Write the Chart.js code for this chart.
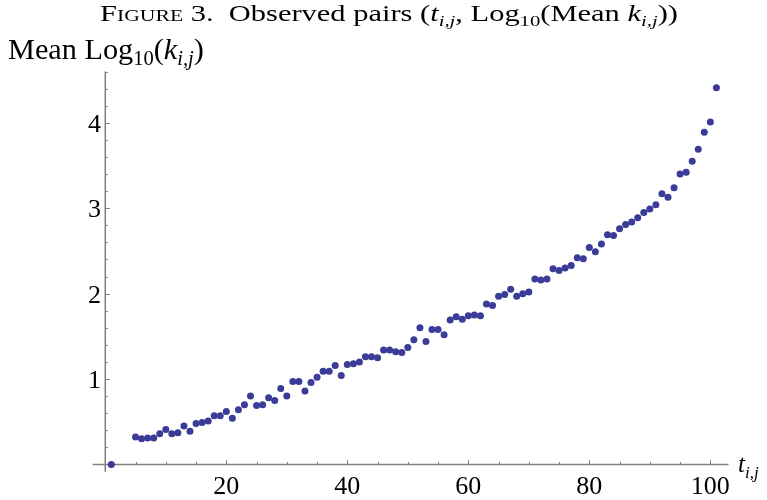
<!DOCTYPE html>
<html>
<head>
<meta charset="utf-8">
<script src="https://cdn.jsdelivr.net/npm/chart.js@4/dist/chart.umd.min.js"></script>
<style>
  html, body { margin: 0; padding: 0; background: #fff; }
  #wrap { position: relative; width: 767px; height: 500px; overflow: hidden; }
  #chart1 { position: absolute; left: 0; top: 0; }
  .txt { position: absolute; white-space: nowrap; line-height: 1; color: #000;
         font-family: "Liberation Serif", "Times New Roman", serif; transform-origin: 0 0; }
  .sub { font-size: 68%; position: relative; top: 0.32em; }
  .sc { font-variant: small-caps; }
</style>
</head>
<body>
<div id="wrap">
  <canvas id="chart1" width="767" height="500"></canvas>
  <div class="txt" id="title"><span class="sc">Figure 3.</span>&nbsp; Observed pairs (<i>t</i><span class="sub"><i>i,j</i></span>, Log<span class="sub">10</span>(Mean <i>k</i><span class="sub"><i>i,j</i></span>))</div>
  <div class="txt" id="ylabel">Mean Log<span class="sub">10</span>(<i>k</i><span class="sub"><i>i,j</i></span>)</div>
  <div class="txt" id="xlabel"><i>t</i><span class="sub"><i>i,j</i></span></div>
</div>
<script>
// observed pairs: t_{i,j} and mean log10(k_{i,j})
const tValues = [
  1, 5, 6, 7, 8, 9, 10, 11, 12, 13, 14, 15, 16, 17, 18, 19, 20,
  21, 22, 23, 24, 25, 26, 27, 28, 29, 30, 31, 32, 33, 34, 35, 36, 37, 38, 39, 40,
  41, 42, 43, 44, 45, 46, 47, 48, 49, 50, 51, 52, 53, 54, 55, 56, 57, 58, 59, 60,
  61, 62, 63, 64, 65, 66, 67, 68, 69, 70, 71, 72, 73, 74, 75, 76, 77, 78, 79, 80,
  81, 82, 83, 84, 85, 86, 87, 88, 89, 90, 91, 92, 93, 94, 95, 96, 97, 98, 99, 100, 101
];
const meanLogK = [
  0.00, 0.32, 0.30, 0.31, 0.31, 0.36, 0.41, 0.36, 0.37, 0.45, 0.39, 0.48, 0.49, 0.51, 0.57, 0.57, 0.62,
  0.54, 0.64, 0.70, 0.80, 0.69, 0.70, 0.78, 0.75, 0.89, 0.80, 0.97, 0.97, 0.86, 0.96, 1.02, 1.09, 1.09, 1.16, 1.04, 1.17,
  1.18, 1.20, 1.26, 1.26, 1.25, 1.34, 1.34, 1.32, 1.31, 1.37, 1.46, 1.60, 1.44, 1.58, 1.58, 1.52, 1.69, 1.73, 1.70, 1.74,
  1.75, 1.74, 1.88, 1.86, 1.97, 1.99, 2.05, 1.97, 2.00, 2.02, 2.17, 2.16, 2.17, 2.29, 2.27, 2.30, 2.33, 2.42, 2.41, 2.54,
  2.49, 2.58, 2.69, 2.68, 2.76, 2.81, 2.84, 2.89, 2.95, 2.99, 3.04, 3.17, 3.13, 3.24, 3.40, 3.42, 3.55, 3.69, 3.89, 4.01, 4.41
];
const xTicks = [20, 40, 60, 80, 100];
const yTicks = [1, 2, 3, 4];

const points = tValues.map((t, i) => ({ x: t, y: meanLogK[i] }));

// Mathematica-style axes crossing at the origin, ticks pointing inward
const axesPlugin = {
  id: 'originAxes',
  beforeDatasetsDraw(chart) {
    const { ctx, chartArea: a, scales: { x, y } } = chart;
    const x0 = x.getPixelForValue(0), y0 = y.getPixelForValue(0);
    ctx.save();
    ctx.strokeStyle = '#7f7f7f';
    ctx.lineWidth = 1.5;
    ctx.beginPath();
    ctx.moveTo(a.left, y0); ctx.lineTo(a.right, y0);
    ctx.moveTo(x0, a.top); ctx.lineTo(x0, a.bottom);
    ctx.stroke();

    ctx.lineWidth = 1;
    ctx.beginPath();
    for (let v = 5; v <= 100; v += 5) {
      const px = Math.round(x.getPixelForValue(v)) + 0.5;
      const len = xTicks.includes(v) ? 4.5 : 2.5;
      ctx.moveTo(px, y0); ctx.lineTo(px, y0 - len);
    }
    for (let k = 1; k <= 23; k++) {
      const v = k / 5;
      const py = Math.round(y.getPixelForValue(v)) + 0.5;
      const len = (k % 5 === 0) ? 4.5 : 2.5;
      ctx.moveTo(x0, py); ctx.lineTo(x0 + len, py);
    }
    ctx.stroke();

    ctx.fillStyle = '#000';
    ctx.font = '26px "Liberation Serif", "Times New Roman", serif';
    ctx.textAlign = 'center';
    ctx.textBaseline = 'alphabetic';
    xTicks.forEach(v => ctx.fillText(String(v), x.getPixelForValue(v), 494));
    ctx.textAlign = 'right';
    yTicks.forEach(v => ctx.fillText(String(v), 101, y.getPixelForValue(v) + 9));
    ctx.restore();
  }
};

function drawChart() {
  new Chart(document.getElementById('chart1'), {
    type: 'scatter',
    data: {
      datasets: [{
        data: points,
        backgroundColor: '#3b3b98',
        borderWidth: 0,
        pointRadius: 3.5,
        pointHoverRadius: 3.5,
        clip: false
      }]
    },
    options: {
      responsive: false,
      animation: false,
      layout: { padding: { left: 92.7, right: 38.5, top: 71.6, bottom: 28.3 } },
      plugins: { legend: { display: false }, tooltip: { enabled: false } },
      scales: {
        x: { type: 'linear', min: -2.08, max: 103, display: false },
        y: { type: 'linear', min: -0.085, max: 4.6, display: false }
      }
    },
    plugins: [axesPlugin]
  });
}

// place rich-text labels; 'stretch' widens the glyphs, otherwise the size is fitted
function place(id, left, baseline, size, width, stretch) {
  const el = document.getElementById(id);
  el.style.transform = 'none';
  el.style.fontSize = size + 'px';
  if (width) {
    const w = el.getBoundingClientRect().width;
    if (stretch) el.style.transform = 'scaleX(' + (width / w) + ')';
    else { size = size * width / w; el.style.fontSize = size + 'px'; }
  }
  el.style.left = left + 'px';
  el.style.top = (baseline - 0.8375 * size) + 'px';
}

function layoutText() {
  place('title', 100, 22, 22.5, 578, true);
  place('ylabel', 8, 59, 23, 196, false);
  place('xlabel', 738, 472, 25, 0, false);
}

const fontsReady = document.fonts
  ? Promise.all([
      document.fonts.load('26px "Liberation Serif"'),
      document.fonts.load('italic 26px "Liberation Serif"')
    ]).catch(() => null)
  : Promise.resolve();
fontsReady.then(() => { layoutText(); drawChart(); });
</script>
</body>
</html>
